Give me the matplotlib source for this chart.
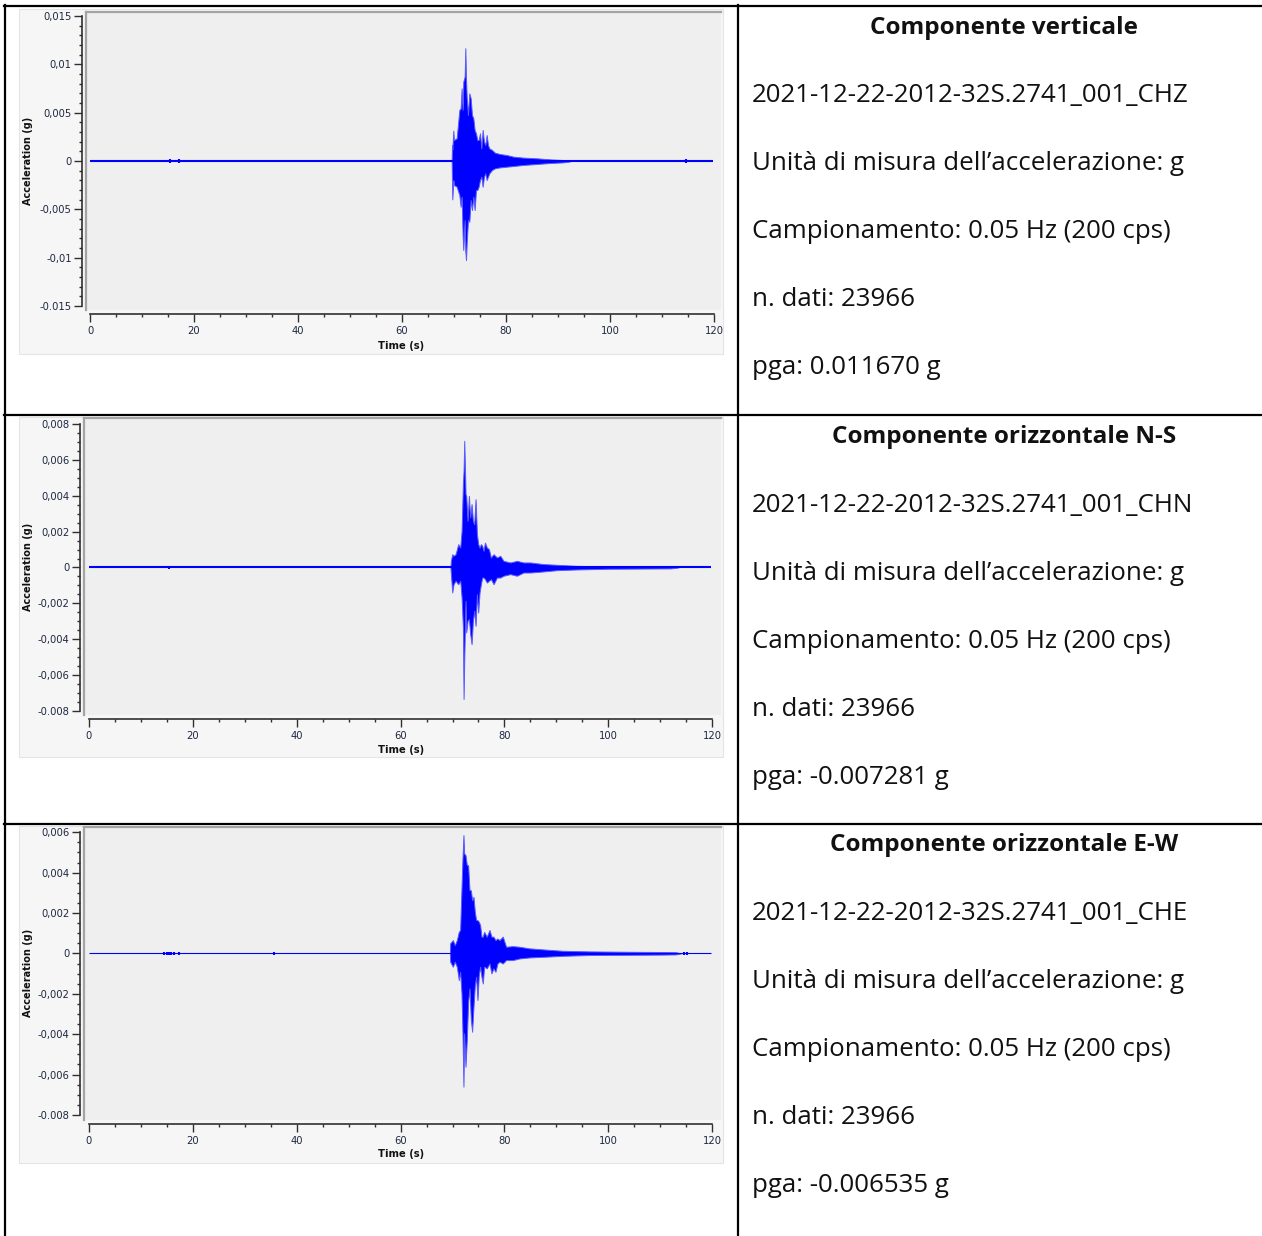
import matplotlib
matplotlib.use('Agg')
import matplotlib.pyplot as plt
from matplotlib.patches import Rectangle
from matplotlib.ticker import MultipleLocator

W, H = 1262, 1236
BLUE = '#0000ff'
TICK_COL = '#1e2840'
TEXT_FONT = 'Open Sans'

# recording info
n_dati = 23966
fs = 200.0
file_id = '2021-12-22-2012-32S.2741_001_'
channels = ['CHZ', 'CHN', 'CHE']
titles = ['Componente verticale', 'Componente orizzontale N-S', 'Componente orizzontale E-W']
pga = ['0.011670', '-0.007281', '-0.006535']

# trace envelopes: time (s), upper / lower acceleration (1e-3 g)
t_z = [69.55, 69.62, 69.68, 69.87, 69.99, 70.51, 71.03, 71.28, 71.47, 71.67, 71.79, 72.05,
       72.18, 72.31, 72.44, 72.69, 72.95, 73.21, 73.46, 73.72, 73.97, 74.23, 74.49, 74.74,
       75.0, 75.26, 75.51, 75.77, 76.03, 76.28, 76.54, 76.79, 77.31, 77.88, 78.85, 80.13,
       81.41, 83.33, 85.9, 88.46, 91.03, 92.3]
hi_z = [0, 1.66, 1.2, 3.14, 2.17, 2.35, 5.28, 5.45, 7.52, 5.28, 8.21, 8.73,
        11.67, 8.56, 6.66, 4.76, 7.0, 6.49, 4.76, 4.42, 3.21, 2.86, 2.17, 2.17,
        2.86, 1.31, 3.21, 2.0, 1.66, 2.69, 1.66, 1.31, 1.14, 0.86, 0.72, 0.62,
        0.45, 0.35, 0.28, 0.17, 0.10, 0.05]
lo_z = [0, -2.31, -3.97, -2.0, -2.48, -2.66, -3.52, -4.73, -3.69, -7.83, -9.21, -6.11,
        -9.38, -10.25, -8.52, -6.11, -6.28, -4.04, -5.07, -3.69, -5.07, -3.0, -3.0, -2.66,
        -1.97, -1.62, -2.66, -1.62, -1.28, -1.97, -1.62, -1.28, -0.93, -0.76, -0.66, -0.59,
        -0.52, -0.41, -0.31, -0.21, -0.14, -0.05]
blips_z = [15.3, 17.2, 114.6]

t_n = [69.6, 69.69, 69.95, 70.2, 70.59, 71.1, 71.49, 71.75, 72.0, 72.13, 72.26, 72.38,
       72.51, 72.64, 72.9, 73.16, 73.41, 73.67, 73.93, 74.18, 74.44, 74.7, 74.95, 75.21,
       75.47, 75.72, 75.98, 76.24, 76.62, 77.01, 77.39, 77.91, 78.55, 79.19, 79.83, 81.12,
       82.4, 83.68, 84.97, 87.54, 90.1, 93.95, 100.0, 106.0, 112.0, 113.5]
hi_n = [0, 0.37, 0.74, 0.65, 0.74, 1.30, 1.11, 2.04, 4.64, 5.39, 7.06, 5.76,
        4.09, 3.99, 2.60, 3.99, 2.79, 3.53, 2.60, 2.41, 3.81, 1.86, 1.30, 1.11,
        1.30, 1.21, 0.93, 1.39, 1.11, 1.02, 0.56, 0.74, 0.56, 0.65, 0.37, 0.28,
        0.37, 0.28, 0.28, 0.19, 0.15, 0.09, 0.07, 0.06, 0.05, 0]
lo_n = [0, -0.37, -1.39, -0.93, -0.74, -0.93, -0.74, -1.67, -3.34, -7.33, -5.11, -3.53,
        -1.86, -3.62, -2.97, -2.88, -3.71, -4.27, -2.97, -2.41, -3.25, -1.49, -2.51, -1.39,
        -0.93, -0.56, -0.56, -0.65, -0.84, -0.74, -0.65, -0.93, -0.56, -0.56, -0.46, -0.37,
        -0.46, -0.28, -0.28, -0.22, -0.15, -0.11, -0.07, -0.06, -0.05, 0]
blips_n = [15.4]

t_e = [69.5, 69.55, 70.06, 70.44, 70.83, 71.21, 71.47, 71.73, 71.92, 72.11, 72.24, 72.5,
       72.76, 73.01, 73.27, 73.53, 73.78, 74.04, 74.3, 74.55, 74.81, 75.06, 75.32, 75.58,
       75.83, 76.09, 76.6, 77.12, 77.5, 77.88, 78.27, 78.65, 79.04, 79.68, 80.32, 81.6,
       82.88, 84.8, 87.37, 91.22, 96.35, 104.0, 110.0, 113.0, 114.0]
hi_e = [0, 0.50, 0.66, 0.41, 0.66, 1.07, 1.16, 3.22, 4.70, 5.86, 4.95, 4.87,
        4.37, 4.37, 3.13, 3.13, 2.64, 2.80, 2.06, 1.65, 1.65, 1.57, 1.40, 0.83,
        0.83, 1.07, 0.83, 1.16, 0.83, 0.83, 0.66, 0.74, 0.66, 0.83, 0.33, 0.36,
        0.33, 0.25, 0.20, 0.13, 0.10, 0.08, 0.07, 0.06, 0]
lo_e = [0, -0.41, -0.66, -0.41, -0.66, -1.32, -0.91, -1.98, -3.96, -6.60, -3.96, -5.61,
        -4.21, -2.39, -1.73, -3.30, -3.88, -2.64, -1.57, -1.16, -2.31, -1.07, -0.66, -1.16,
        -1.49, -0.66, -0.74, -0.50, -0.99, -0.74, -0.91, -0.50, -0.41, -0.50, -0.33, -0.33,
        -0.25, -0.20, -0.17, -0.12, -0.08, -0.07, -0.06, -0.05, 0]
blips_e = [14.5, 15.0, 15.4, 15.8, 16.3, 17.3, 35.7, 114.6, 115.2]

yticks_z = [0.015, 0.01, 0.005, 0, -0.005, -0.01, -0.015]
ylabels_z = ['0,015', '0,01', '0,005', '0', '-0,005', '-0,01', '-0.015']
yticks_n = [0.008, 0.006, 0.004, 0.002, 0, -0.002, -0.004, -0.006, -0.008]
ylabels_n = ['0,008', '0,006', '0,004', '0,002', '0', '-0,002', '-0,004', '-0,006', '-0.008']
yticks_e = [0.006, 0.004, 0.002, 0, -0.002, -0.004, -0.006, -0.008]
ylabels_e = ['0,006', '0,004', '0,002', '0', '-0,002', '-0,004', '-0,006', '-0.008']
xticks = [0, 20, 40, 60, 80, 100, 120]


def px_rect(left, top, right, bottom):
    return [left / W, 1 - bottom / H, (right - left) / W, (bottom - top) / H]


def draw_trace(rect, t, hi, lo, blips, blip_amp, xlim, ylim, yticks, ylabels, yminor, base_lw):
    ax = fig.add_axes(px_rect(*rect), facecolor='#efefef')
    duration = n_dati / fs
    ax.plot([0, duration], [0, 0], color=BLUE, lw=base_lw, solid_capstyle='butt')
    ax.fill_between(t, [v * 1e-3 for v in lo], [v * 1e-3 for v in hi],
                    facecolor=BLUE, edgecolor='#5a5aff', lw=0.7)
    ax.vlines(blips, -blip_amp, blip_amp, color=BLUE, lw=1.5)
    ax.set_xlim(*xlim)
    ax.set_ylim(*ylim)

    ax.set_xticks(xticks)
    ax.xaxis.set_minor_locator(MultipleLocator(5))
    ax.set_yticks(yticks)
    ax.set_yticklabels(ylabels)
    ax.yaxis.set_minor_locator(MultipleLocator(yminor))
    ax.tick_params(which='major', length=5.5, width=1, color='#303030',
                   labelsize=7.2, labelcolor=TICK_COL)
    ax.tick_params(which='minor', length=2.4, width=1, color='#303030')
    ax.tick_params(axis='y', pad=2)
    ax.tick_params(axis='x', pad=3.5)

    for side in ('left', 'bottom'):
        ax.spines[side].set_position(('outward', 2.8))
        ax.spines[side].set_color('#303030')
        ax.spines[side].set_linewidth(1.2)
    ax.spines['bottom'].set_bounds(0, 120)
    ax.spines['left'].set_bounds(min(yticks), max(yticks))
    ax.spines['right'].set_visible(False)
    ax.spines['top'].set_color('#a4a4a4')
    ax.spines['top'].set_linewidth(1.6)
    ax.plot([0, 0], [0, 1], transform=ax.transAxes, color='#a4a4a4', lw=1.6, clip_on=False)
    return ax


fig = plt.figure(figsize=(W / 100, H / 100), dpi=100)

bg = fig.add_axes([0, 0, 1, 1])
bg.set_xlim(0, W)
bg.set_ylim(H, 0)
bg.axis('off')

# panel backgrounds
for top, bottom in [(9, 354), (417, 757), (826, 1163)]:
    bg.add_patch(Rectangle((19, top), 704, bottom - top, facecolor='#f6f6f6',
                           edgecolor='#e4e4e4', lw=0.8))

# table borders
for y in (6, 415, 824):
    bg.plot([4, W], [y, y], color='black', lw=1.6)
bg.plot([5, 5], [5, H], color='black', lw=1.6)
bg.plot([738, 738], [5, H], color='black', lw=1.6)

# traces
draw_trace((86, 12, 721, 310), t_z, hi_z, lo_z, blips_z, 0.00018,
           (-0.77, 121.35), (-0.01541, 0.01541), yticks_z, ylabels_z, 0.001, 1.5)
draw_trace((84, 418, 721, 715), t_n, hi_n, lo_n, blips_n, 0.0001,
           (-0.96, 121.7), (-0.00822, 0.00833), yticks_n, ylabels_n, 0.0005, 1.5)
draw_trace((84, 827, 721, 1120), t_e, hi_e, lo_e, blips_e, 0.00007,
           (-0.96, 121.7), (-0.00825, 0.00626), yticks_e, ylabels_e, 0.0005, 0.8)

# axis titles
for y_time, y_acc in [(346, 161), (750, 567), (1154, 973)]:
    bg.text(401, y_time, 'Time (s)', ha='center', va='center', fontsize=7.2,
            fontweight='bold', color='#111111')
    bg.text(28, y_acc, 'Acceleration (g)', ha='center', va='center', fontsize=7,
            fontweight='bold', rotation=90, color='#111111')

# info column
row_y0 = [28, 437, 845]
for i in range(3):
    y0 = row_y0[i]
    bg.text(1004, y0, titles[i], ha='center', va='center', fontsize=17.5,
            fontweight='bold', family=TEXT_FONT, color='#111111')
    lines = [file_id + channels[i],
             'Unità di misura dell’accelerazione: g',
             'Campionamento: 0.05 Hz (200 cps)',
             'n. dati: %d' % n_dati,
             'pga: %s g' % pga[i]]
    for k, line in enumerate(lines):
        bg.text(752, y0 + 68 * (k + 1), line, ha='left', va='center', fontsize=18.6,
                family=TEXT_FONT, color='#111111')

fig.savefig('out.png', dpi=100)
